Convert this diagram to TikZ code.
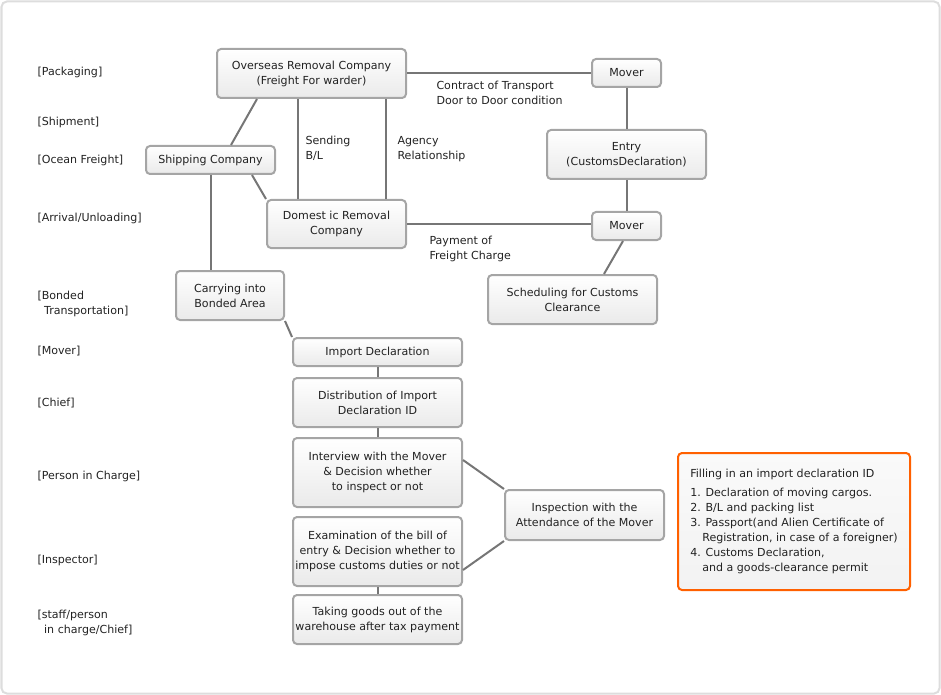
\documentclass[tikz,border=0pt]{standalone}
\usepackage{fontspec}
\setsansfont{DejaVu Sans}
\usetikzlibrary{calc}

\definecolor{boxline}{RGB}{165,165,165}
\definecolor{wireline}{RGB}{118,118,118}
\definecolor{inktext}{RGB}{34,34,34}
\definecolor{noteline}{RGB}{255,96,0}
\definecolor{framecol}{RGB}{221,221,221}

\tikzset{every picture/.style={line width=0.75pt}}
\tikzset{
  stepbox/.style={draw=boxline, line width=1.5, rounded corners=3, top color=white, bottom color={rgb,255:red,234;green,234;blue,234}, text=inktext, font=\fontsize{8.3}{11.25}\selectfont\sffamily, align=center, inner sep=0pt},
  boxsize/.style 2 args={minimum width=#1, minimum height=#2},
  notebox/.style={draw=noteline, line width=1.5, rounded corners=3, top color={rgb,255:red,250;green,250;blue,250}, bottom color={rgb,255:red,242;green,242;blue,242}, text=inktext, font=\fontsize{8.3}{11.25}\selectfont\sffamily, align=left, inner sep=0pt},
  stage/.style={anchor=west, align=left, inner sep=0pt, yshift=-0.75pt, text=inktext, font=\fontsize{8.3}{11.25}\selectfont\sffamily},
  wire/.style={draw=wireline, line width=1.5}
}

\begin{document}
\begin{tikzpicture}[x=0.75pt,y=0.75pt,yscale=-1,xscale=1]
	\useasboundingbox (0,0) rectangle (941,695);
	%Shape: Frame
	\draw [framecol, line width=1.5, rounded corners=4] (1.5,1.5) rectangle (939.5,693.5);

	%Shape: Boxes, upper part
	\draw (311.5,73.5) node [stepbox, boxsize={141.75pt}{36.75pt}] (over) {Overseas Removal Company\\(Freight For warder)};
	\draw (626.5,73) node [stepbox, boxsize={51.75pt}{21pt}] (mova) {Mover};
	\draw (626.5,154.5) node [stepbox, boxsize={119.25pt}{36.75pt}] (entry) {Entry\\(CustomsDeclaration)};
	\draw (210.5,160) node [stepbox, boxsize={96.75pt}{21pt}] (ship) {Shipping Company};
	\draw (336.5,224) node [stepbox, boxsize={104.25pt}{36pt}] (dom) {Domest ic Removal\\Company};
	\draw (626.5,226) node [stepbox, boxsize={51.75pt}{21pt}] (movb) {Mover};
	\draw (572.5,299.5) node [stepbox, boxsize={126.75pt}{36.75pt}] (sched) {Scheduling for Customs\\Clearance};
	\draw (230,295.5) node [stepbox, boxsize={81pt}{36.75pt}] (carry) {Carrying into\\Bonded Area};

	%Shape: Boxes, lower part
	\draw (377.5,352) node [stepbox, boxsize={126.75pt}{21pt}] (imp) {Import Declaration};
	\draw (377.5,402.5) node [stepbox, boxsize={126.75pt}{36.75pt}] (dist) {Distribution of Import\\Declaration ID};
	\draw (377.5,472.5) node [stepbox, boxsize={126.75pt}{51.75pt}] (inter) {Interview with the Mover\\\& Decision whether\\to inspect or not};
	\draw (377.5,551.5) node [stepbox, boxsize={126.75pt}{51.75pt}] (exam) {Examination of the bill of\\entry \& Decision whether to\\impose customs duties or not};
	\draw (377.5,619.5) node [stepbox, boxsize={126.75pt}{36.75pt}] (take) {Taking goods out of the\\warehouse after tax payment};
	\draw (584.5,515) node [stepbox, boxsize={119.25pt}{37.5pt}] (insp) {Inspection with the\\Attendance of the Mover};

	%Shape: Note
	\draw (794,521.5) node [notebox, boxsize={174pt}{102.75pt}] (note) {Filling in an import declaration ID\\[3pt]
		1. Declaration of moving cargos.\\
		2. B/L and packing list\\
		3. Passport(and Alien Certificate of\\
		\hspace*{9pt}Registration, in case of a foreigner)\\
		4. Customs Declaration,\\
		\hspace*{9pt}and a goods-clearance permit};

	%Straight Lines
	\draw [wire] ($(over.south west)+(41,0)$) -- ($(ship.north)+(20.5,0)$);
	\draw [wire] ($(over.south)+(-13.5,0)$) -- ($(over.south |- dom.north)+(-13.5,0)$);
	\draw [wire] ($(over.south)+(74.5,0)$) -- ($(over.south |- dom.north)+(74.5,0)$);
	\draw [wire] ($(ship.south)+(41.5,0)$) -- (dom.north west);
	\draw [wire] (ship.south) -- (ship.south |- carry.north);
	\draw [wire] (over.east) -- (over.east -| mova.west);
	\draw [wire] (mova.south) -- (entry.north);
	\draw [wire] (entry.south) -- (movb.north);
	\draw [wire] (dom.east) -- (dom.east -| movb.west);
	\draw [wire] ($(movb.south)+(-3.5,0)$) -- ($(sched.north)+(31.5,0)$);
	\draw [wire] (carry.south east) -- (imp.north west);
	\draw [wire] (imp.south) -- (dist.north);
	\draw [wire] (dist.south) -- (inter.north);
	\draw [wire] (exam.south) -- (take.north);
	\draw [wire] ($(inter.east)+(0,-12.5)$) -- (insp.north west);
	\draw [wire] ($(exam.east)+(0,18.5)$) -- (insp.south west);

	% Text Node
	\draw (305,147.5) node [stage] (lbsend) {Sending\\B/L};
	% Text Node
	\draw (397,148.5) node [stage] (lbagency) {Agency\\Relationship};
	% Text Node
	\draw (436,91.5) node [stage] (lbcontract) {Contract of Transport\\Door to Door condition};
	% Text Node
	\draw (429,247.5) node [stage] (lbpay) {Payment of\\Freight Charge};

	% Text Node
	\draw (37,71) node [stage] (stpack) {[Packaging]};
	% Text Node
	\draw (37,121) node [stage] (stshipm) {[Shipment]};
	% Text Node
	\draw (37,159) node [stage] (stocean) {[Ocean Freight]};
	% Text Node
	\draw (37,217) node [stage] (starriv) {[Arrival/Unloading]};
	% Text Node
	\draw (37,302.5) node [stage] (stbond) {[Bonded\\\hspace*{5pt}Transportation]};
	% Text Node
	\draw (37,350) node [stage] (stmover) {[Mover]};
	% Text Node
	\draw (37,402) node [stage] (stchief) {[Chief]};
	% Text Node
	\draw (37,475) node [stage] (stperson) {[Person in Charge]};
	% Text Node
	\draw (37,559) node [stage] (stinsp) {[Inspector]};
	% Text Node
	\draw (37,621.5) node [stage] (ststaff) {[staff/person\\\hspace*{5pt}in charge/Chief]};

\end{tikzpicture}
\end{document}
